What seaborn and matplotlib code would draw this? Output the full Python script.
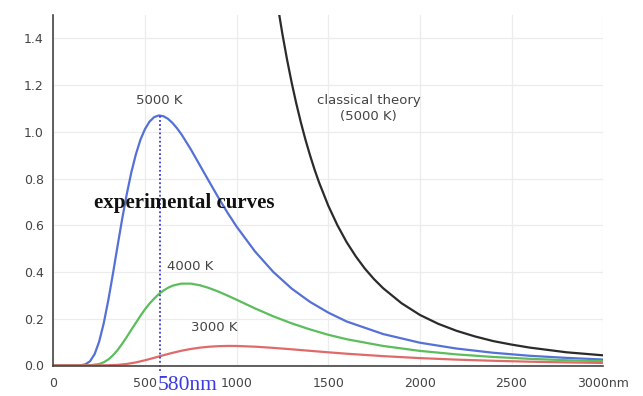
import matplotlib
matplotlib.use("Agg")
import matplotlib.pyplot as plt
import pandas as pd
import seaborn as sns

# wavelength (nm) and spectral intensity
wl_5000 = [0, 100, 150, 175, 200, 225, 250, 275, 300, 325, 350, 375, 400, 425, 450, 475,
           500, 525, 550, 575, 600, 625, 650, 675, 700, 750, 800, 850, 900, 950, 1000,
           1100, 1200, 1300, 1400, 1500, 1600, 1800, 2000, 2200, 2400, 2600, 2800, 3000]
t5000 = [0, 0, 0.0006, 0.0044, 0.0176, 0.048, 0.102, 0.181, 0.280, 0.392, 0.510, 0.625,
         0.731, 0.825, 0.903, 0.966, 1.012, 1.044, 1.063, 1.070, 1.067, 1.056, 1.038,
         1.015, 0.988, 0.925, 0.856, 0.787, 0.719, 0.654, 0.594, 0.488, 0.400, 0.329,
         0.272, 0.226, 0.188, 0.134, 0.097, 0.072, 0.054, 0.041, 0.032, 0.025]

wl_4000 = [0, 150, 200, 250, 275, 300, 325, 350, 375, 400, 425, 450, 475, 500, 525, 550,
           575, 600, 625, 650, 675, 700, 750, 800, 850, 900, 950, 1000, 1100, 1200, 1300,
           1400, 1500, 1600, 1800, 2000, 2200, 2400, 2600, 2800, 3000]
t4000 = [0, 0, 0.0005, 0.0058, 0.0132, 0.0254, 0.0429, 0.065, 0.092, 0.121, 0.152,
         0.182, 0.212, 0.240, 0.265, 0.286, 0.305, 0.320, 0.332, 0.341, 0.346, 0.350,
         0.350, 0.343, 0.331, 0.316, 0.299, 0.281, 0.244, 0.210, 0.180, 0.154, 0.131,
         0.112, 0.083, 0.062, 0.047, 0.036, 0.028, 0.022, 0.018]

wl_3000 = [0, 200, 250, 300, 350, 400, 450, 500, 550, 600, 650, 700, 750, 800, 850, 900,
           950, 1000, 1100, 1200, 1300, 1400, 1500, 1600, 1800, 2000, 2200, 2400, 2600,
           2800, 3000]
t3000 = [0, 0, 0, 0.0005, 0.0021, 0.0060, 0.0127, 0.0218, 0.0323, 0.0433, 0.0536,
         0.0628, 0.0702, 0.0759, 0.0798, 0.0822, 0.0832, 0.0830, 0.0800, 0.0749, 0.0688,
         0.0623, 0.0559, 0.0499, 0.0395, 0.0311, 0.0246, 0.0196, 0.0157, 0.0127, 0.0104]

wl_classic = [1200, 1225, 1250, 1275, 1300, 1325, 1350, 1375, 1400, 1425, 1450, 1500,
              1550, 1600, 1650, 1700, 1750, 1800, 1900, 2000, 2100, 2200, 2300, 2400,
              2500, 2600, 2800, 3000]
classic = [1.669, 1.537, 1.418, 1.310, 1.212, 1.123, 1.042, 0.968, 0.901, 0.839, 0.783,
           0.684, 0.600, 0.528, 0.467, 0.414, 0.369, 0.330, 0.266, 0.216, 0.178, 0.148,
           0.124, 0.104, 0.089, 0.076, 0.056, 0.043]

peak_wl = 580
peak_val = 1.07

x_ticks = [0, 500, 1000, 1500, 2000, 2500, 3000]
x_labels = ["0", "500", "1000", "1500", "2000", "2500", "3000nm"]
y_ticks = [0.0, 0.2, 0.4, 0.6, 0.8, 1.0, 1.2, 1.4]

frames = [
    pd.DataFrame({"wl": wl_5000, "val": t5000, "curve": "5000 K"}),
    pd.DataFrame({"wl": wl_4000, "val": t4000, "curve": "4000 K"}),
    pd.DataFrame({"wl": wl_3000, "val": t3000, "curve": "3000 K"}),
    pd.DataFrame({"wl": wl_classic, "val": classic, "curve": "classical"}),
]
df = pd.concat(frames, ignore_index=True)

palette = {"5000 K": "#5571d6", "4000 K": "#5cbd5c", "3000 K": "#e06a6a",
           "classical": "#2b2b2b"}

sns.set_theme(style="white")
fig = plt.figure(figsize=(6.43, 3.96), dpi=100)
ax = fig.add_axes([0.083, 0.075, 0.855, 0.887])

sns.lineplot(data=df, x="wl", y="val", hue="curve", palette=palette, sort=False,
             estimator=None, linewidth=1.6, legend=False, ax=ax)

# dotted marker at the 5000 K peak
ax.plot([peak_wl, peak_wl], [-0.025, peak_val], color="#3a3ae0", linestyle=(0, (1, 1.3)),
        linewidth=1.3, clip_on=False)

ax.set_xlim(0, 3000)
ax.set_ylim(-0.004, 1.5)
ax.set_xticks(x_ticks)
ax.set_xticklabels(x_labels)
ax.set_yticks(y_ticks)
ax.set_yticklabels([f"{v:.1f}" for v in y_ticks])
ax.set_xlabel("")
ax.set_ylabel("")
ax.grid(True, color="#ececec", linewidth=0.9)
ax.set_axisbelow(True)

for s in ["top", "right"]:
    ax.spines[s].set_visible(False)
for s in ["left", "bottom"]:
    ax.spines[s].set_color("#444444")
    ax.spines[s].set_linewidth(1.2)
ax.tick_params(axis="both", colors="#444444", labelsize=9, length=5, width=1.1)
ax.tick_params(axis="x", direction="inout", length=9, pad=3)
ax.tick_params(axis="y", direction="out", length=5, pad=2)

txt = dict(fontsize=9.5, color="#444444", ha="center", va="center")
ax.text(580, 1.134, "5000 K", **txt)
ax.text(749, 0.422, "4000 K", **txt)
ax.text(880, 0.162, "3000 K", **txt)
ax.text(1721, 1.134, "classical theory", **txt)
ax.text(1721, 1.066, "(5000 K)", **txt)
ax.text(713, 0.695, "experimental curves", fontsize=15, fontweight="bold",
        family="Liberation Serif", color="#111111", ha="center", va="center")
ax.text(570, -0.085, "580nm", fontsize=15.5, family="Liberation Serif", color="#3a3ae0",
        ha="left", va="center", clip_on=False)

fig.savefig("out.png", dpi=100)
